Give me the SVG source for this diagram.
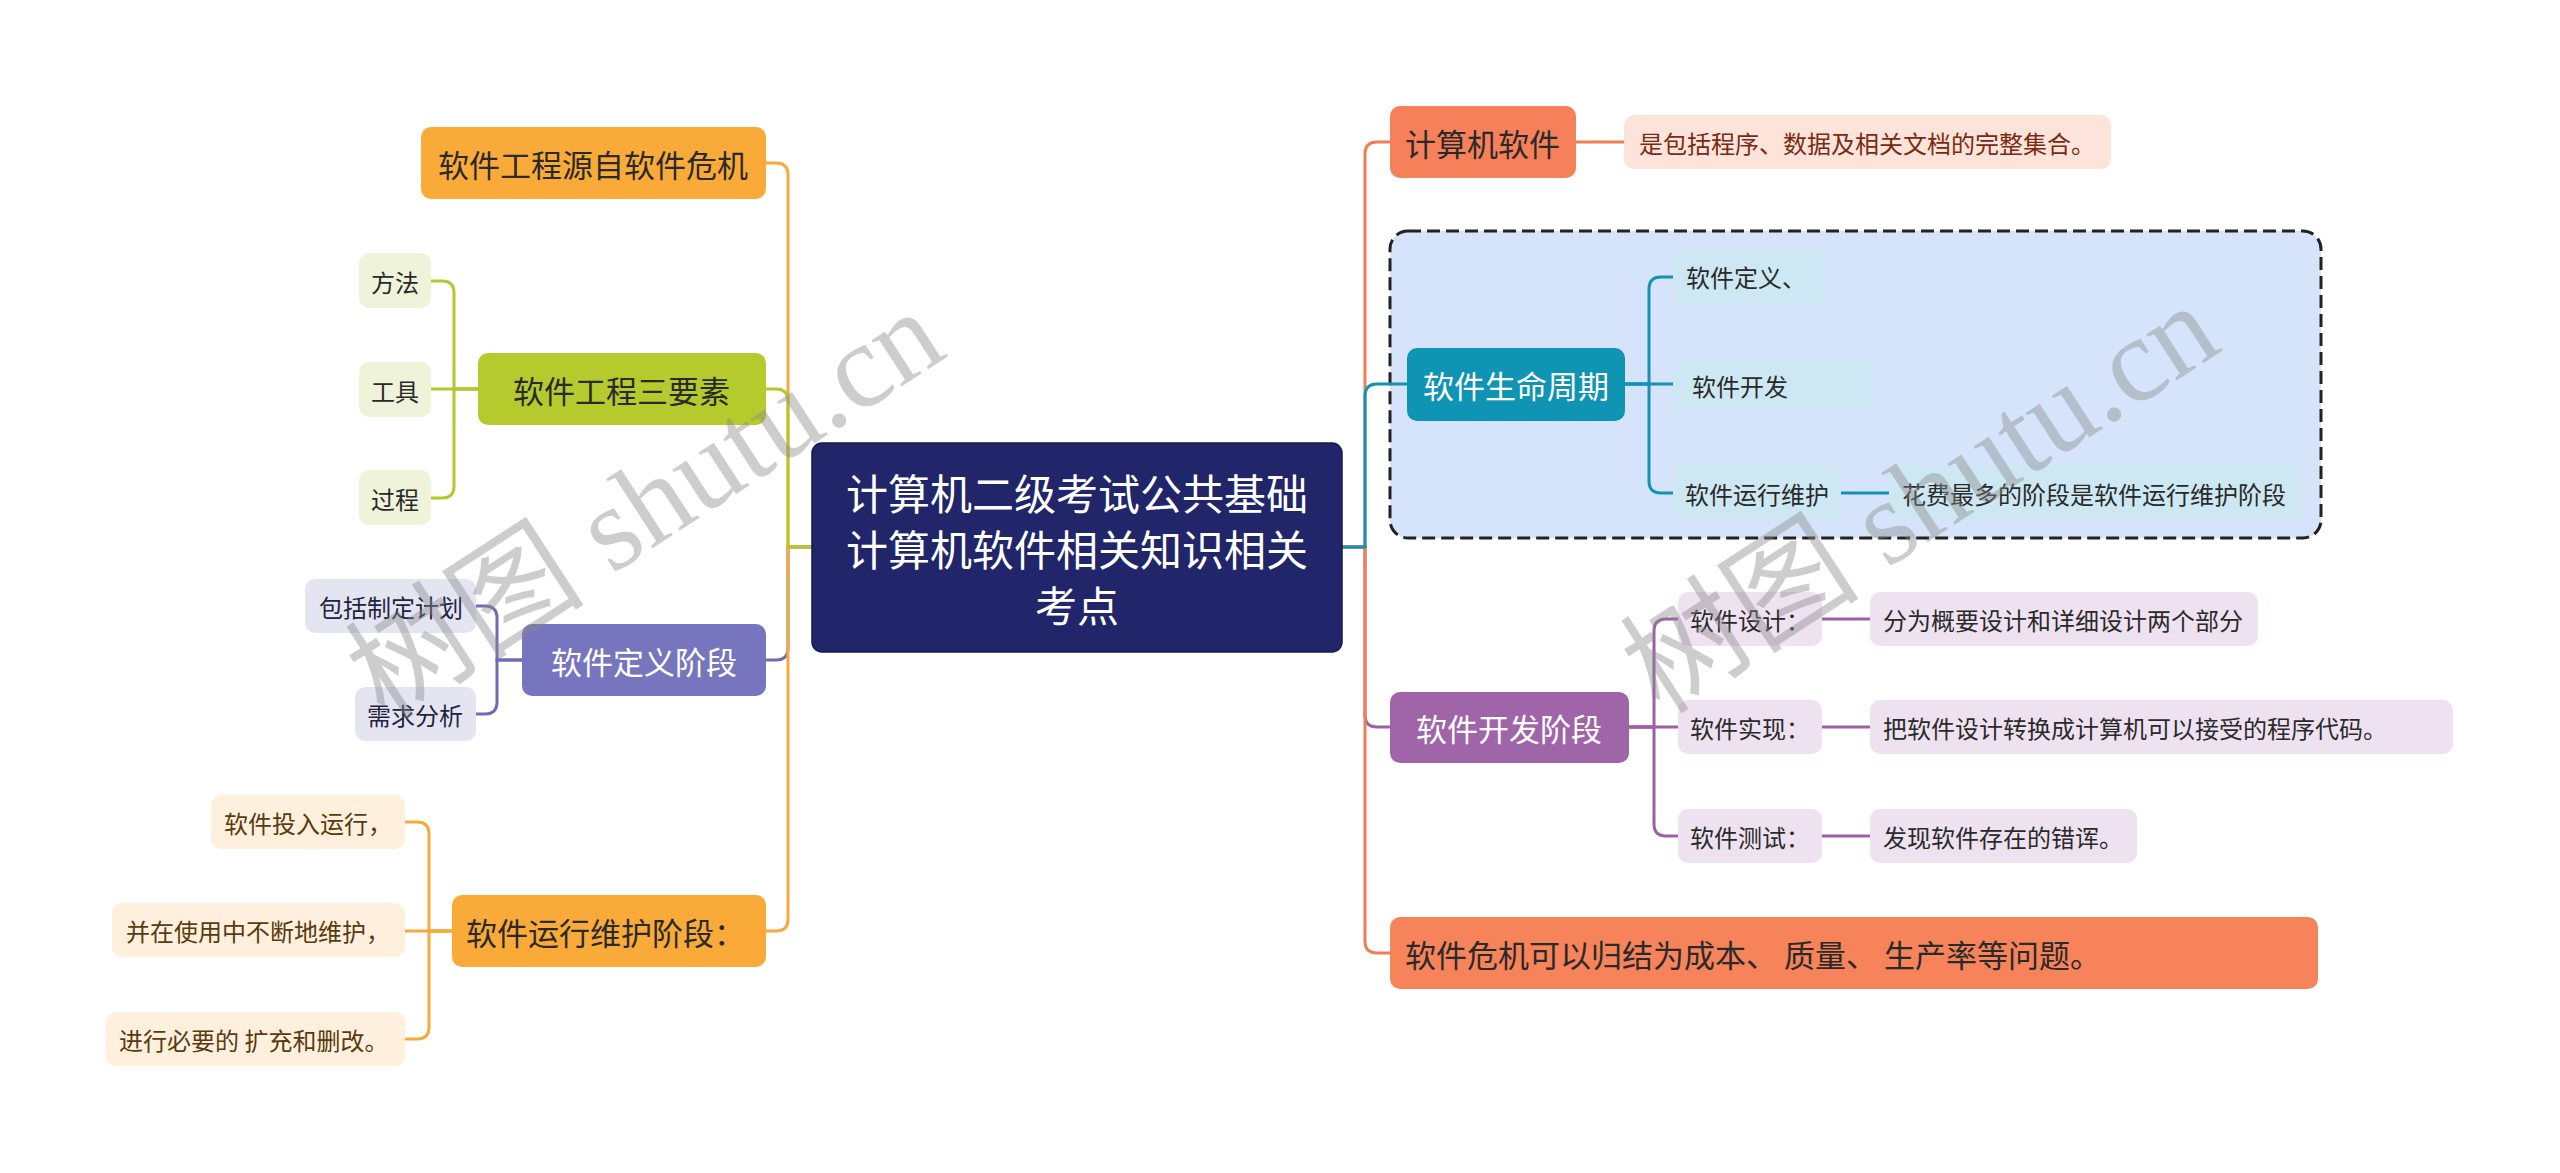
<svg xmlns="http://www.w3.org/2000/svg" width="2560" height="1173" viewBox="0 0 2560 1173">
<style>
text{font-family:"Noto Sans CJK SC","Noto Sans",sans-serif;dominant-baseline:central}
.l1{font-size:31px}
.lf{font-size:24px}
.c{font-size:42px;fill:#fff;text-anchor:middle}
.dk{fill:#2a2a2a}
.wt{fill:#fff}
.conn path{fill:none;stroke-width:3;stroke-linecap:round}
.or{stroke:#F8A938}.gr{stroke:#B3C82D}.pu{stroke:#6E6CB5}.co{stroke:#F27D55}.te{stroke:#1293B3}.ma{stroke:#9B61A4}
.wm{font-family:"Liberation Serif","Noto Sans CJK SC",serif;font-size:120px;fill:#8a8a8a;opacity:.42;dominant-baseline:alphabetic}
</style>
<rect width="2560" height="1173" fill="#fff"/>
<g id="lifecycle-frame"><rect x="1390" y="231" width="931" height="307" rx="18" fill="#D5E4FB" stroke="#222" stroke-width="3" stroke-dasharray="13 6"/></g>
<g class="conn" id="connectors">
<path class="or" d="M812 547H788V175Q788 163 776 163H766"/>
<path class="pu" d="M812 547H788V648Q788 660 776 660H766"/>
<path class="or" d="M812 547H788V919Q788 931 776 931H766"/>
<path class="gr" d="M812 547H788V401Q788 389 776 389H766"/>
<path class="gr" d="M478 389H454V293Q454 281 442 281H431"/>
<path class="gr" d="M478 389H431"/>
<path class="gr" d="M478 389H454V486Q454 498 442 498H431"/>
<path class="pu" d="M522 660H497V618Q497 606 485 606H476"/>
<path class="pu" d="M522 660H497V702Q497 714 485 714H476"/>
<path class="or" d="M452 931H429V834Q429 822 417 822H405"/>
<path class="or" d="M452 931H405"/>
<path class="or" d="M452 931H429V1027Q429 1039 417 1039H405"/>
<path class="co" d="M1342 547H1365V154Q1365 142 1377 142H1390"/>
<path class="ma" d="M1342 547H1365V715Q1365 727 1377 727H1390"/>
<path class="co" d="M1342 547H1365V941Q1365 953 1377 953H1390"/>
<path class="te" d="M1342 547H1365V396Q1365 384 1377 384H1407"/>
<path class="co" d="M1576 142H1624"/>
<path class="te" d="M1625 384H1649V289Q1649 277 1661 277H1673"/>
<path class="te" d="M1625 384H1673"/>
<path class="te" d="M1625 384H1649V481Q1649 493 1661 493H1673"/>
<path class="te" d="M1841 493H1889"/>
<path class="ma" d="M1629 727H1654V631Q1654 619 1666 619H1678"/>
<path class="ma" d="M1629 727H1678"/>
<path class="ma" d="M1629 727H1654V824Q1654 836 1666 836H1678"/>
<path class="ma" d="M1822 619H1870"/>
<path class="ma" d="M1822 727H1870"/>
<path class="ma" d="M1822 836H1870"/>
</g>
<g id="root"><rect x="812" y="443" width="530" height="209" rx="10" fill="#202669" stroke="#141a4d" stroke-width="1.5"/>
<text class="c" x="1077" y="491">计算机二级考试公共基础</text>
<text class="c" x="1077" y="547">计算机软件相关知识相关</text>
<text class="c" x="1077" y="603">考点</text></g>
<g id="n-origin"><rect x="421" y="127" width="345" height="72" rx="10" fill="#F9AA39"/><text class="l1 dk" x="438" y="163">软件工程源自软件危机</text></g>
<g id="n-three"><rect x="478" y="353" width="288" height="72" rx="10" fill="#B5CA2C"/><text class="l1 dk" x="513" y="389">软件工程三要素</text></g>
<g id="n-fangfa"><rect x="359" y="253" width="72" height="55" rx="10" fill="#EEF3DA"/><text class="lf dk" x="371" y="281">方法</text></g>
<g id="n-gongju"><rect x="359" y="362" width="72" height="55" rx="10" fill="#EEF3DA"/><text class="lf dk" x="371" y="390">工具</text></g>
<g id="n-guocheng"><rect x="359" y="470" width="72" height="55" rx="10" fill="#EEF3DA"/><text class="lf dk" x="371" y="498">过程</text></g>
<g id="n-def"><rect x="522" y="624" width="244" height="72" rx="10" fill="#7775BE"/><text class="l1 wt" x="551" y="660">软件定义阶段</text></g>
<g id="n-plan"><rect x="305" y="579" width="171" height="54" rx="10" fill="#E5E5F2"/><text class="lf" fill="#22243f" x="319" y="606">包括制定计划</text></g>
<g id="n-req"><rect x="355" y="687" width="121" height="54" rx="10" fill="#E5E5F2"/><text class="lf" fill="#22243f" x="367" y="714">需求分析</text></g>
<g id="n-maint"><rect x="452" y="895" width="314" height="72" rx="10" fill="#F9AA39"/><text class="l1 dk" x="466" y="931">软件运行维护阶段：</text></g>
<g id="n-run"><rect x="211" y="795" width="194" height="54" rx="10" fill="#FEF0DC"/><text class="lf" fill="#5a3a10" x="224" y="822">软件投入运行，</text></g>
<g id="n-keep"><rect x="112" y="903" width="293" height="54" rx="10" fill="#FEF0DC"/><text class="lf" fill="#5a3a10" x="126" y="930">并在使用中不断地维护，</text></g>
<g id="n-ext"><rect x="106" y="1012" width="299" height="54" rx="10" fill="#FEF0DC"/><text class="lf" fill="#5a3a10" x="119" y="1039">进行必要的 扩充和删改。</text></g>
<g id="n-sw"><rect x="1390" y="106" width="186" height="72" rx="10" fill="#F6805A"/><text class="l1 dk" x="1405" y="142">计算机软件</text></g>
<g id="n-swdesc"><rect x="1624" y="115" width="487" height="54" rx="10" fill="#FDE4DA"/><text class="lf" fill="#7a2a12" x="1639" y="142">是包括程序、数据及相关文档的完整集合。</text></g>
<g id="n-life"><rect x="1407" y="348" width="218" height="73" rx="10" fill="#1094B4"/><text class="l1 wt" x="1423" y="384">软件生命周期</text></g>
<g id="n-ldef"><rect x="1673" y="249" width="152" height="54" rx="10" fill="#CDE8F2"/><text class="lf dk" x="1686" y="276">软件定义、</text></g>
<g id="n-ldev"><rect x="1673" y="358" width="200" height="54" rx="10" fill="#CDE8F2"/><text class="lf dk" x="1692" y="385">软件开发</text></g>
<g id="n-lmnt"><rect x="1673" y="466" width="168" height="54" rx="10" fill="#CDE8F2"/><text class="lf dk" x="1685" y="493">软件运行维护</text></g>
<g id="n-cost"><rect x="1889" y="466" width="412" height="54" rx="10" fill="#CDE8F2"/><text class="lf dk" x="1902" y="493">花费最多的阶段是软件运行维护阶段</text></g>
<g id="n-dev"><rect x="1390" y="692" width="239" height="71" rx="10" fill="#A065A8"/><text class="l1 wt" x="1416" y="727">软件开发阶段</text></g>
<g id="n-design"><rect x="1678" y="592" width="144" height="54" rx="10" fill="#EEE2F0"/><text class="lf dk" x="1690" y="619">软件设计：</text></g>
<g id="n-designd"><rect x="1870" y="592" width="388" height="54" rx="10" fill="#EEE2F0"/><text class="lf dk" x="1883" y="619">分为概要设计和详细设计两个部分</text></g>
<g id="n-impl"><rect x="1678" y="700" width="144" height="54" rx="10" fill="#EEE2F0"/><text class="lf dk" x="1690" y="727">软件实现：</text></g>
<g id="n-impld"><rect x="1870" y="700" width="583" height="54" rx="10" fill="#EEE2F0"/><text class="lf dk" x="1883" y="727">把软件设计转换成计算机可以接受的程序代码。</text></g>
<g id="n-test"><rect x="1678" y="809" width="144" height="54" rx="10" fill="#EEE2F0"/><text class="lf dk" x="1690" y="836">软件测试：</text></g>
<g id="n-testd"><rect x="1870" y="809" width="267" height="54" rx="10" fill="#EEE2F0"/><text class="lf dk" x="1883" y="836">发现软件存在的错诨。</text></g>
<g id="n-crisis"><rect x="1390" y="917" width="928" height="72" rx="10" fill="#F6835A"/><text class="l1 dk" x="1405" y="953">软件危机可以归结为成本、 质量、 生产率等问题。</text></g>
<g id="watermark">
<text class="wm" transform="translate(385 722) rotate(-33)">树图 shutu.cn</text>
<text class="wm" transform="translate(1660 716) rotate(-33)">树图 shutu.cn</text>
</g>
</svg>
